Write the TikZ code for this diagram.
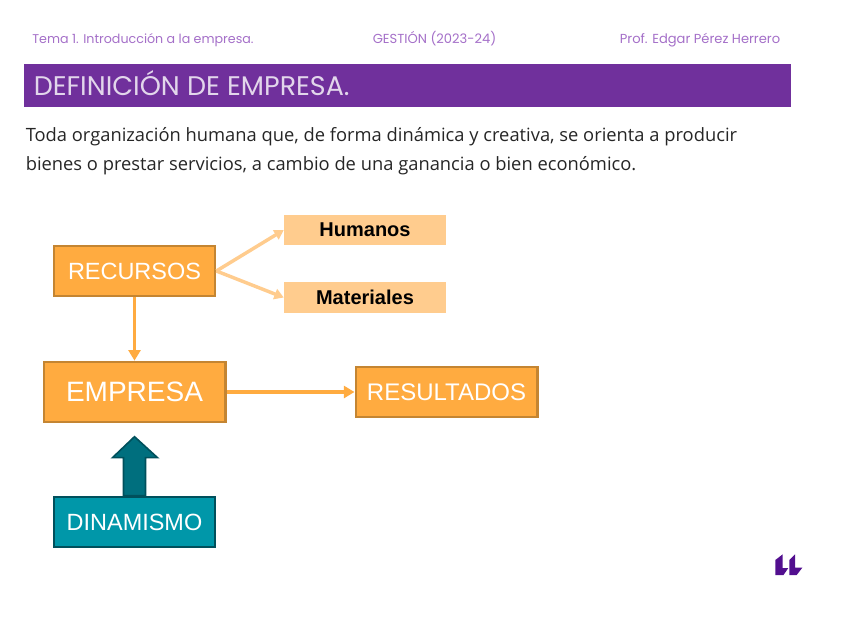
\documentclass[tikz,border=0pt]{standalone}
\usepackage{fontspec}
\usepackage{xcolor}
\usetikzlibrary{arrows, arrows.meta}
\setmainfont{Open Sans}
\newfontfamily\headfont{Poppins}
\newfontfamily\boxfont{Liberation Sans}
\definecolor{purplebar}{HTML}{70309C}
\definecolor{purplehead}{HTML}{A46FC8}
\definecolor{orangebox}{HTML}{FFAB40}
\definecolor{orangeline}{HTML}{C48532}
\definecolor{orangelight}{HTML}{FFCC8E}
\definecolor{tealbox}{HTML}{0097A9}
\definecolor{tealline}{HTML}{00505C}
\definecolor{tealarrow}{HTML}{006F7E}
\definecolor{logopurple}{HTML}{520F8F}
\tikzset{
	headtext/.style={text=purplehead, font=\headfont\fontsize{9.8}{12}\selectfont, inner sep=0pt, anchor=base},
	bodytext/.style={text=black!85, font=\fontsize{13.75}{16}\selectfont, inner sep=0pt, anchor=base west},
	mainbox/.style={rectangle, draw=orangeline, line width=2pt, fill=orangebox, text=white, inner sep=0pt, font=\boxfont\fontsize{17.6}{20}\selectfont},
	subbox/.style={rectangle, fill=orangelight, text=black, inner sep=0pt, minimum width=121.5pt, minimum height=22.8pt, font=\boxfont\bfseries\fontsize{15}{18}\selectfont},
	softarrow/.style={draw=orangelight, line width=2.6pt, -{Triangle[length=7pt,width=8pt]}},
	boxarrow/.style={draw=orangebox, line width=2.8pt, -{Triangle[length=8pt,width=9pt]}}
}
\begin{document}
\begin{tikzpicture}[x=0.75pt, y=-0.75pt]
	\useasboundingbox (0,0) rectangle (848,636);
	\node[headtext, font=\headfont\fontsize{9.5}{12}\selectfont] (tema) at (143,43){Tema 1. Introducción a la empresa.};
	\node[headtext] (gestion) at (434.5,43){GESTIÓN (2023-24)};
	\node[headtext] (prof) at (700,43){Prof. Edgar Pérez Herrero};
	\fill[purplebar] (24,64) rectangle (791,107);
	\node[text=white!80!purplebar, anchor=base west, inner sep=0pt, font=\headfont\fontsize{20.2}{24}\selectfont] (titulo) at (33.5,95){DEFINICIÓN DE EMPRESA.};
	\node[bodytext] (linea1) at (25.5,141){Toda organización humana que, de forma dinámica y creativa, se orienta a producir};
	\node[bodytext] (linea2) at (25.5,170){bienes o prestar servicios, a cambio de una ganancia o bien económico.};
	\node[mainbox, minimum width=120.8pt, minimum height=37.5pt] (recursos) at (134.5,271){RECURSOS};
	\node[mainbox, minimum width=136pt, minimum height=45pt, font=\boxfont\fontsize{21}{24}\selectfont] (empresa) at (134.5,392){EMPRESA};
	\node[mainbox, minimum width=136pt, minimum height=37.5pt, font=\boxfont\fontsize{18}{20}\selectfont] (resultados) at (446.5,392){RESULTADOS};
	\node[mainbox, draw=tealline, fill=tealbox, minimum width=120.8pt, minimum height=37.5pt] (dinamismo) at (134.5,522){DINAMISMO};
	\node[subbox] (humanos) at (365,230){Humanos};
	\node[subbox] (materiales) at (365,297.5){Materiales};
	\draw[softarrow] (recursos.east) -- (humanos.west);
	\draw[softarrow] (recursos.east) -- (materiales.west);
	\draw[boxarrow] (recursos) -- (empresa);
	\draw[boxarrow] (empresa) -- (resultados);
	% flecha gruesa
	\draw[draw=tealline, fill=tealarrow, line width=1.2pt] (dinamismo.north) ++(-11,0) -- ++(0,-38) -- ++(-11,0) -- ++(22,-21) -- ++(23,21) -- ++(-12,0) -- ++(0,38) -- cycle;
	% logo
	\fill[logopurple] (775.3,575) -- (775.3,560) -- (782.7,554.3) -- (782.7,568) -- (788.3,568) -- (783.5,575) -- cycle;
	\fill[logopurple] (789.3,575) -- (789.3,560) -- (795,554.3) -- (795,567.7) -- (802.3,567.7) -- (796.7,575) -- cycle;
\end{tikzpicture}
\end{document}
